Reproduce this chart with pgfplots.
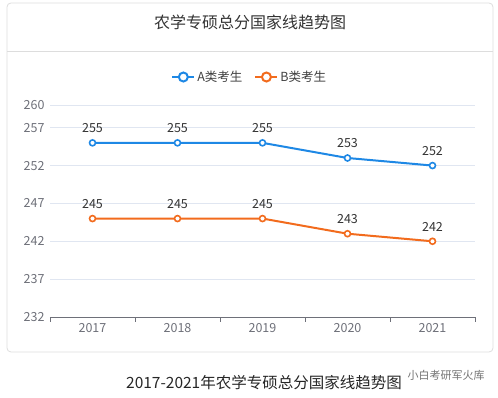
\documentclass[border=0pt]{standalone}
\usepackage{pgfplots}
\pgfplotsset{compat=1.18}
\usepackage{fontspec}
\setmainfont{Noto Sans CJK SC}
\definecolor{blueA}{HTML}{1E88E5}
\definecolor{orangeB}{HTML}{F26B1D}
\definecolor{gridc}{HTML}{E0E6F1}
\definecolor{axisc}{HTML}{6E7079}
\definecolor{boxc}{HTML}{DDDDDD}
\begin{document}
\begin{tikzpicture}[x=1pt,y=1pt]
% outer box
\draw[boxc, line width=0.8pt, rounded corners=4pt] (-43,-35) rectangle (443,314);
\draw[boxc, line width=0.8pt] (-43,266) -- (443,266);
\node[font=\fontsize{16}{18}\selectfont, text=black!80] at (200,295) {农学专硕总分国家线趋势图};
\begin{axis}[
  at={(0,0)}, anchor=south west,
  scale only axis, width=425pt, height=212pt,
  xmin=-0.5, xmax=4.5, ymin=232, ymax=260,
  xtick={0,1,2,3,4},
  xticklabels={2017,2018,2019,2020,2021},
  minor xtick={-0.5,0.5,1.5,2.5,3.5,4.5},
  ytick={232,237,242,247,252,257,260},
  major tick length=0pt,
  minor tick length=5pt,
  tick align=outside,
  axis lines*=left,
  x axis line style={axisc, line width=0.8pt},
  y axis line style={draw=none},
  minor tick style={axisc, line width=0.8pt},
  ymajorgrids, grid style={gridc, line width=0.8pt},
  ticklabel style={font=\fontsize{12.5}{14}\selectfont, text=axisc},
  /pgf/number format/assume math mode=true,
  /pgf/number format/1000 sep={},
  xticklabel style={yshift=-3pt},
  yticklabel style={xshift=-2pt},
  nodes near coords,
  every node near coord/.append style={font=\fontsize{12.5}{14}\selectfont, text=black!80, anchor=center, yshift=14.5pt},
  legend style={at={(0.47,1.132)}, anchor=center, draw=none, fill=none,
    font=\fontsize{12.5}{14}\selectfont, text=black!75, legend columns=2,
    /tikz/every even column/.append style={column sep=10pt}},
  legend image code/.code={\draw[#1, line width=2pt] (0pt,0pt) -- (22pt,0pt);
     \draw[#1, line width=2pt, fill=white] (11pt,0pt) circle (4.5pt);},
  clip=false,
]
\addplot[blueA, line width=2pt, mark=*, mark size=3pt, mark options={fill=white, line width=1.6pt}]
  coordinates {(0,255) (1,255) (2,255) (3,253) (4,252)};
\addlegendentry{A类考生}
\addplot[orangeB, line width=2pt, mark=*, mark size=3pt, mark options={fill=white, line width=1.6pt}]
  coordinates {(0,245) (1,245) (2,245) (3,243) (4,242)};
\addlegendentry{B类考生}
\end{axis}
\node[font=\fontsize{15.5}{18}\selectfont, text=black!85] at (214,-66) {2017-2021年农学专硕总分国家线趋势图};
\node[font=\fontsize{11}{13}\selectfont, text=black!55] at (396,-58) {小白考研军火库};
\pgfresetboundingbox
\path[use as bounding box] (-50,-81) rectangle (448,317);
\end{tikzpicture}
\end{document}
